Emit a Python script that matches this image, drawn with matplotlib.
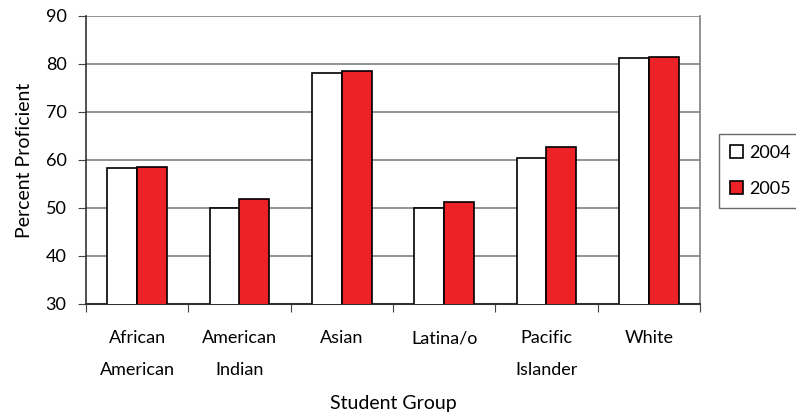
import matplotlib.pyplot as plt
import numpy as np
from matplotlib import font_manager

groups = ["African\nAmerican", "American\nIndian", "Asian", "Latina/o", "Pacific\nIslander", "White"]
years = ["2004", "2005"]
pct_2004 = [58.4, 50.0, 78.1, 50.0, 60.4, 81.2]
pct_2005 = [58.5, 51.9, 78.5, 51.2, 62.8, 81.5]

names = {f.name for f in font_manager.fontManager.ttflist}
fam = "Liberation Sans Narrow" if "Liberation Sans Narrow" in names else "Lato"
plt.rcParams['font.family'] = fam
plt.rcParams['font.size'] = 13

fig = plt.figure(figsize=(7.96, 4.18), dpi=100)
ax = fig.add_axes([86 / 796, 1 - 304 / 418, (700 - 86) / 796, (304 - 16) / 418])

x = np.arange(len(groups))
w = 0.29
ax.bar(x - w / 2, pct_2004, w, color="white", edgecolor="black", linewidth=1.2, label=years[0], zorder=3)
ax.bar(x + w / 2, pct_2005, w, color="#ec2227", edgecolor="black", linewidth=1.2, label=years[1], zorder=3)

ax.set_xlim(-0.5, len(groups) - 0.5)
ax.set_ylim(30, 90)
ax.set_yticks(range(30, 91, 10))
ax.yaxis.grid(True, color="#808080", linewidth=1.2, zorder=0)
ax.set_xticks(np.arange(len(groups) + 1) - 0.5)
ax.set_xticklabels([])
ax.set_xticks(x, minor=True)
ax.set_xticklabels(groups, minor=True, linespacing=2.2)
ax.tick_params(axis="x", which="minor", length=0, pad=19)
ax.tick_params(axis="x", which="major", length=6, color="#444444")
ax.tick_params(axis="y", length=6, color="#444444", pad=8)
ax.spines["top"].set_visible(False)
ax.spines["right"].set_color("#808080")
ax.spines["left"].set_color("#333333")
ax.spines["bottom"].set_color("#333333")
ax.spines["left"].set_linewidth(1.2)
ax.spines["right"].set_linewidth(1.2)
ax.spines["bottom"].set_linewidth(1.5)

ax.set_xlabel("Student Group", labelpad=12, fontsize=14)
ax.set_ylabel("Percent Proficient", labelpad=9, fontsize=14)

leg = ax.legend(loc="center left", bbox_to_anchor=(719 / 796, 1 - 171 / 418), bbox_transform=fig.transFigure,
                frameon=True, fancybox=False, edgecolor="#444444", handlelength=0.75, handleheight=0.75,
                handletextpad=0.35, labelspacing=1.1, borderaxespad=0, borderpad=0.6, fontsize=13)
leg.get_frame().set_linewidth(1.0)

fig.savefig("out.png", dpi=100)
